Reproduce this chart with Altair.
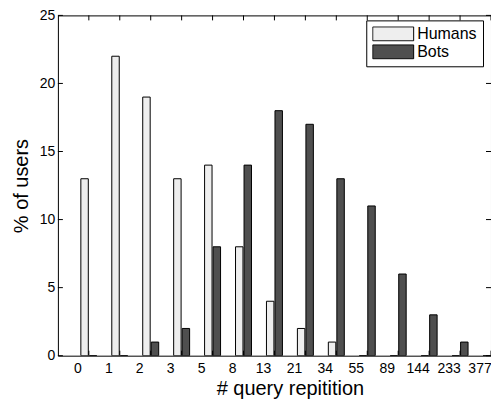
import altair as alt
import pandas as pd

categories = ["0", "1", "2", "3", "5", "8", "13", "21", "34", "55", "89", "144", "233", "377"]
humans = [13, 22, 19, 13, 14, 8, 4, 2, 1, 0, 0, 0, 0, 0]
bots = [0, 0, 1, 2, 8, 14, 18, 17, 13, 11, 6, 3, 1, 0]
series_names = ["Humans", "Bots"]
series_colors = ["#eeeeee", "#4f4f4f"]
y_ticks = [0, 5, 10, 15, 20, 25]

rows = []
for c, h, b in zip(categories, humans, bots):
    rows.append({"bin": c, "series": "Humans", "pct": h})
    rows.append({"bin": c, "series": "Bots", "pct": b})
df = pd.DataFrame(rows)
tick_df = pd.DataFrame({"pct": y_ticks})
cat_df = pd.DataFrame({"bin": categories})

W, H = 434, 341
step = W / 14.0
band = 16.0
pin = 1 - band / step

FONT = "Liberation Sans"

x_scale = alt.Scale(domain=categories, range=[step / 2, W + step / 2],
                    paddingInner=pin, paddingOuter=pin / 2)
y_scale = alt.Scale(domain=[0, 25], nice=False)

x_axis = alt.Axis(title="# query repitition", labelAngle=0, ticks=False, tickSize=0,
                  domain=False, grid=False, labelOffset=-11, labelPadding=6,
                  titlePadding=3, labelFontSize=14, titleFontSize=20,
                  labelColor="black", titleColor="black",
                  labelFont=FONT, titleFont=FONT, titleFontWeight="normal")
y_axis = alt.Axis(title="% of users", values=y_ticks, ticks=False, tickSize=0,
                  domain=False, grid=False, labelPadding=3, titlePadding=8,
                  labelFontSize=14, titleFontSize=20, labelColor="black",
                  titleColor="black", labelFont=FONT, titleFont=FONT,
                  titleFontWeight="normal")

bars = alt.Chart(df).mark_bar(stroke="black", strokeWidth=1, clip=True, opacity=1).encode(
    x=alt.X("bin:N", sort=categories, scale=x_scale, axis=x_axis),
    xOffset=alt.XOffset("series:N", sort=series_names,
                        scale=alt.Scale(domain=series_names, paddingInner=0.125, paddingOuter=0)),
    y=alt.Y("pct:Q", scale=y_scale, axis=y_axis),
    color=alt.Color("series:N", sort=series_names,
                    scale=alt.Scale(domain=series_names, range=series_colors),
                    legend=alt.Legend(orient="none", legendX=309, legendY=5, title=None,
                                      strokeColor="black", fillColor="white", padding=6,
                                      symbolType="M-1,-0.34H1V0.34H-1Z", symbolSize=1681,
                                      symbolStrokeColor="black", symbolStrokeWidth=1,
                                      labelFontSize=16, labelFont=FONT, labelColor="black",
                                      clipHeight=15, rowPadding=1, labelOffset=3,
                                      symbolOpacity=1, cornerRadius=0)),
)

ytick_left = alt.Chart(tick_df).mark_rule(color="black", strokeWidth=1).encode(
    y=alt.Y("pct:Q", scale=y_scale, axis=y_axis), x=alt.value(0), x2=alt.value(5))
ytick_right = alt.Chart(tick_df).mark_rule(color="black", strokeWidth=1).encode(
    y=alt.Y("pct:Q", scale=y_scale, axis=y_axis), x=alt.value(W - 5), x2=alt.value(W))
xtick_top = alt.Chart(cat_df).mark_rule(color="black", strokeWidth=1).encode(
    x=alt.X("bin:N", sort=categories, scale=x_scale, axis=x_axis), y=alt.value(0), y2=alt.value(5))
xtick_bottom = alt.Chart(cat_df).mark_rule(color="black", strokeWidth=1).encode(
    x=alt.X("bin:N", sort=categories, scale=x_scale, axis=x_axis), y=alt.value(H - 5), y2=alt.value(H))

chart = alt.layer(bars, ytick_left, ytick_right, xtick_top, xtick_bottom).properties(
    width=W, height=H,
    autosize=alt.AutoSizeParams(type="none"),
    padding={"left": 50, "top": 7, "right": 0, "bottom": 46},
    background="white",
).configure_view(stroke="black", strokeWidth=1)

chart.save("out.html", embed_options={"renderer": "svg", "actions": False})
